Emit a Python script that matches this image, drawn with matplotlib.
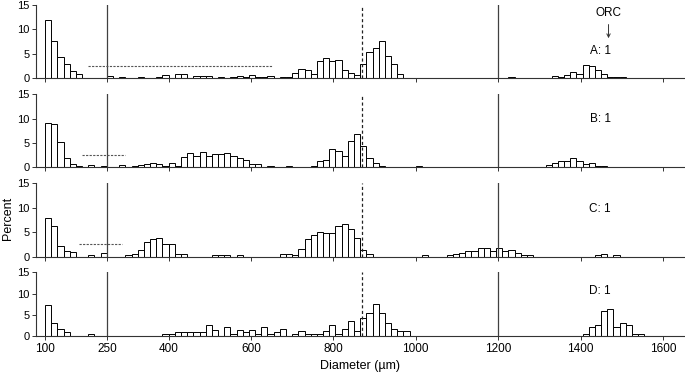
import matplotlib
matplotlib.use("Agg")
import matplotlib.pyplot as plt
import numpy as np

plt.rcParams['font.family'] = ['Liberation Sans', 'DejaVu Sans']

# histogram data: percent per 15 um bin, first bin starts at 100 um
bin_start = 100
bin_width = 15

pct_a = [12.0, 7.7, 4.3, 2.9, 1.5, 0.8, 0, 0, 0, 0,
         0.5, 0, 0.3, 0, 0, 0.3, 0, 0, 0.3, 0.6,
         0, 0.8, 0.8, 0, 0.55, 0.55, 0.55, 0, 0.3, 0,
         0.3, 0.55, 0.3, 0.6, 0.3, 0.3, 0.55, 0, 0.3, 0.3,
         1.0, 1.9, 1.8, 0.8, 3.5, 4.1, 3.5, 3.8, 1.8, 1.0,
         0.6, 2.9, 5.3, 6.1, 7.7, 4.5, 2.9, 0.8, 0, 0,
         0, 0, 0, 0, 0, 0, 0, 0, 0, 0,
         0, 0, 0, 0, 0, 0.3, 0, 0, 0, 0,
         0, 0, 0.55, 0.3, 0.75, 1.3, 0.9, 2.7, 2.45, 1.6,
         0.9, 0.3, 0.3, 0.3]

pct_b = [9.2, 9.0, 5.1, 1.85, 0.7, 0.27, 0, 0.55, 0, 0.27,
         0, 0, 0.55, 0, 0.27, 0.5, 0.7, 0.95, 0.75, 0.27,
         0.95, 0.27, 2.05, 3.0, 2.3, 3.2, 2.3, 2.7, 2.7, 3.0,
         2.3, 1.9, 1.4, 0.6, 0.6, 0, 0.27, 0, 0, 0.27,
         0, 0, 0, 0.27, 1.2, 1.6, 3.7, 3.3, 2.3, 5.5,
         6.85, 4.45, 1.9, 0.95, 0.27, 0, 0, 0, 0, 0,
         0.27, 0, 0, 0, 0, 0, 0, 0, 0, 0,
         0, 0, 0, 0, 0, 0, 0, 0, 0, 0,
         0, 0.55, 0.8, 1.2, 1.2, 1.9, 1.2, 0.7, 0.95, 0.27,
         0.27]

pct_c = [7.85, 6.3, 2.2, 1.1, 0.95, 0, 0, 0.27, 0, 0.7,
         0, 0, 0, 0.27, 0.55, 1.35, 3.05, 3.6, 3.75, 2.6,
         2.6, 0.55, 0.55, 0, 0, 0, 0, 0.27, 0.27, 0.27,
         0, 0.27, 0, 0, 0, 0, 0, 0, 0.55, 0.55,
         0.27, 1.5, 3.55, 4.4, 5.0, 4.8, 4.8, 6.3, 6.6, 5.6,
         3.9, 1.35, 0.55, 0, 0, 0, 0, 0, 0, 0,
         0, 0.27, 0, 0, 0, 0.27, 0.55, 0.8, 1.1, 1.1,
         1.8, 1.8, 1.1, 1.8, 1.1, 1.45, 0.8, 0.27, 0.27, 0,
         0, 0, 0, 0, 0, 0, 0, 0, 0, 0.27,
         0.55, 0, 0.27]

pct_d = [7.3, 3.0, 1.6, 1.0, 0, 0, 0, 0.45, 0, 0,
         0, 0, 0, 0, 0, 0, 0, 0, 0, 0.45,
         0.45, 1.0, 1.0, 1.0, 1.0, 1.0, 2.5, 1.5, 0, 2.05,
         0.5, 1.5, 1.0, 1.5, 0.5, 2.05, 0.5, 1.0, 1.55, 0,
         0.47, 1.1, 0.47, 0.47, 0.47, 1.1, 2.5, 0.47, 1.55, 3.5,
         1.1, 4.3, 5.4, 7.6, 5.4, 2.95, 1.55, 1.1, 1.1, 0,
         0, 0, 0, 0, 0, 0, 0, 0, 0, 0,
         0, 0, 0, 0, 0, 0, 0, 0, 0, 0,
         0, 0, 0, 0, 0, 0, 0, 0.5, 2.05, 2.5,
         5.8, 6.3, 2.05, 3.0, 2.5, 0.5, 0.5]

panel_labels = ['A: 1', 'B: 1', 'C: 1', 'D: 1']
# dashed range lines at 2.5 % (start, end in um), D has none
range_lines = [(205, 650), (190, 295), (182, 287), None]
solid_lines = [250, 1200]
dashed_line = 870

xticks = [100, 250, 400, 600, 800, 1000, 1200, 1400, 1600]
yticks = [0, 5, 10, 15]

all_pct = [pct_a, pct_b, pct_c, pct_d]

fig = plt.figure(figsize=(6.85, 3.75), dpi=100)

# axes rectangles in pixels (top, bottom)
rows = [(5, 78.3), (94.3, 167.3), (183.3, 256.7), (272.3, 336)]
left = 36 / 685
width = 1 - left - 0.001

for i, (top, bottom) in enumerate(rows):
    ax = fig.add_axes([left, 1 - bottom / 375, width, (bottom - top) / 375])
    pct = np.array(all_pct[i])
    edges = bin_start + bin_width * np.arange(len(pct))
    keep = pct > 0
    ax.bar(edges[keep], pct[keep], width=bin_width, align='edge',
           facecolor='white', edgecolor='black', linewidth=0.7, zorder=2)

    for xv in solid_lines:
        ax.axvline(xv, color='#404040', linewidth=0.9, zorder=3)
    ax.axvline(dashed_line, color='#222222', linewidth=0.9,
               linestyle=(0, (2.5, 2)), zorder=3)
    if range_lines[i] is not None:
        x0, x1 = range_lines[i]
        ax.plot([x0, x1], [2.5, 2.5], color='#555555', linewidth=0.8,
                linestyle=(0, (2, 1.2)), zorder=3)

    ax.set_xlim(78, 1652)
    ax.set_ylim(0, 15)
    ax.set_yticks(yticks)
    ax.set_xticks(xticks)
    ax.spines['top'].set_visible(False)
    ax.spines['right'].set_visible(False)
    for s in ['left', 'bottom']:
        ax.spines[s].set_linewidth(0.8)
        ax.spines[s].set_color('#333333')
    ax.tick_params(axis='both', direction='out', length=3, width=0.7,
                   color='#333333', pad=1.5)
    ax.tick_params(axis='y', labelsize=8)
    ax.tick_params(axis='x', labelsize=8.5, pad=2)
    if i < 3:
        ax.set_xticklabels([])

    label_y = [5.6, 9.9, 9.75, 10.7][i]
    ax.text(1448, label_y, panel_labels[i], ha='center', va='center',
            fontsize=8.5)
    if i == 0:
        ax.text(1468, 13.3, 'ORC', ha='center', va='center', fontsize=8.5)
        ax.annotate('', xy=(1468, 8.2), xytext=(1468, 11.0),
                    arrowprops=dict(arrowstyle='->', color='#333333',
                                    lw=0.7, shrinkA=0, shrinkB=0,
                                    mutation_scale=6))

fig.text(8 / 685, 1 - 218 / 375, 'Percent', rotation=90, ha='center',
         va='center', fontsize=9)
fig.text(360 / 685, 1 - 366 / 375, 'Diameter (µm)', ha='center',
         va='center', fontsize=9)

fig.savefig('out.png', dpi=100)
